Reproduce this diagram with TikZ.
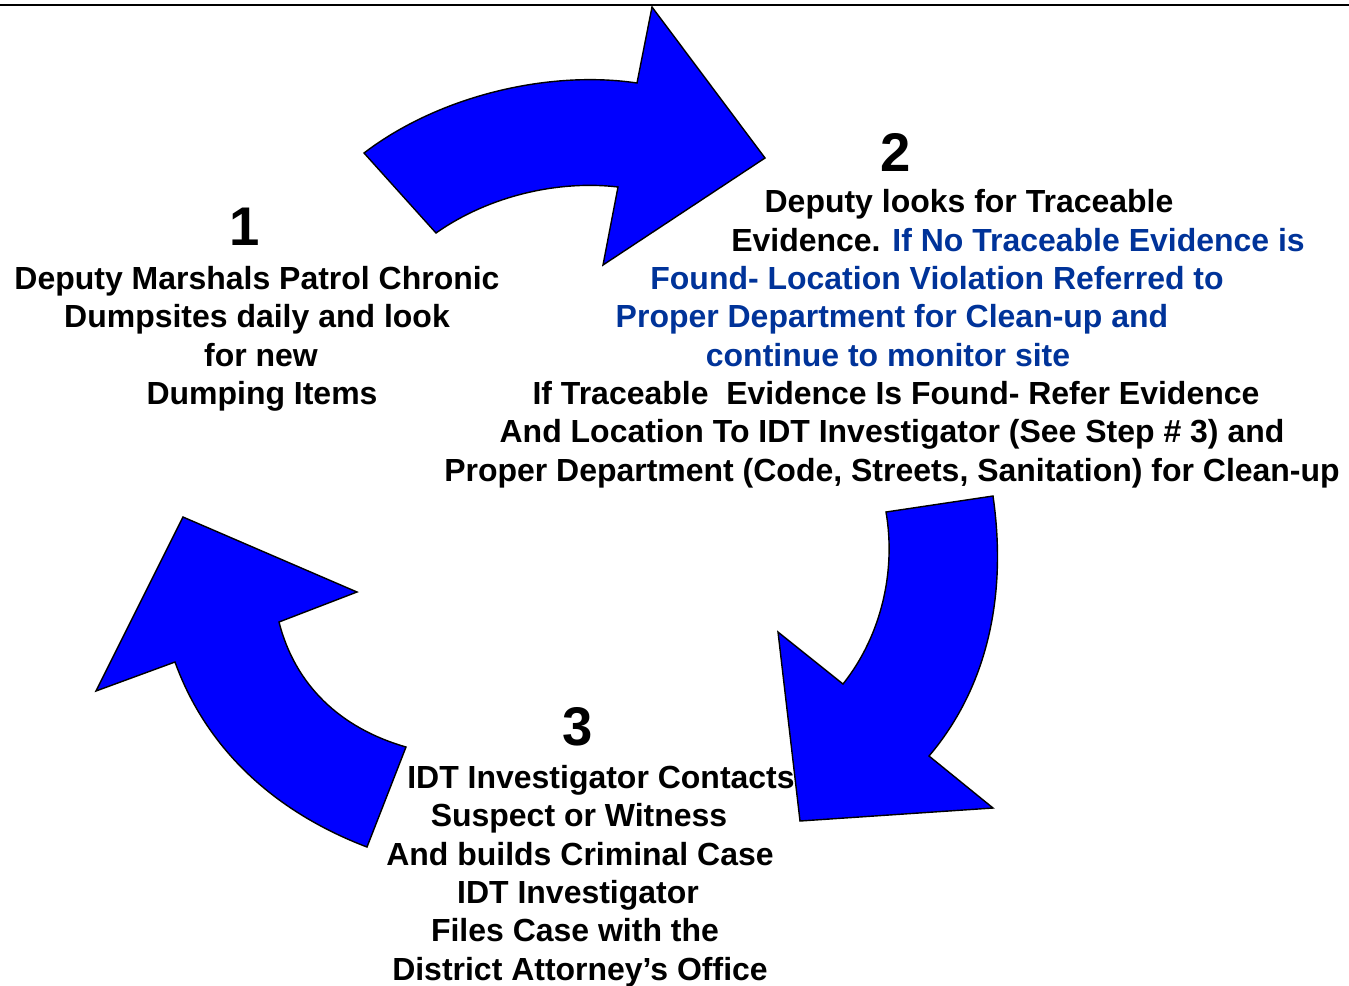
\documentclass[tikz,border=0pt]{standalone}
\usepackage{fontspec}
\setmainfont{Liberation Sans}
\definecolor{arrowblue}{RGB}{0,0,255}
\definecolor{notfoundblue}{RGB}{0,51,153}
\begin{document}
\begin{tikzpicture}[x=0.02cm, y=-0.02cm]
      \tikzset{
	  cyclearrow/.style={draw=black, fill=arrowblue, line width=0.8pt, line join=miter},
	  steptext/.style={font=\bfseries\fontsize{18.2}{21.8}\selectfont, anchor=base, inner sep=0pt},
	  stepnum/.style={font=\bfseries\fontsize{31}{36}\selectfont, anchor=base, inner sep=0pt},
	  notfound/.style={text=notfoundblue}
      }

      \useasboundingbox (0,0) rectangle (1349,985);
      \draw[line width=1.6pt] (0,5) -- (1349,5);

      \def\toparrow{(637,83) .. controls (550,70) and (440,95) .. (364,153) -- (436,233) .. controls (490,195) and (560,180) .. (618,187) -- (603,265) -- (765,158) -- (652,7) -- cycle}
      \def\rightarrow{(993,496) -- (886,512) .. controls (896,570) and (882,635) .. (843,684) -- (778,632) -- (800,821) -- (993,808) -- (929,756) .. controls (985,690) and (1008,600) .. cycle}
      \def\leftarrow{(406,747) -- (367,847) .. controls (270,810) and (205,745) .. (175,662) -- (96,691) -- (183,517) -- (357,592) -- (279,622) .. controls (295,685) and (340,728) .. cycle}

      \draw[cyclearrow] \toparrow;
      \draw[cyclearrow] \rightarrow;
      \draw[cyclearrow] \leftarrow;

      % step 1
      \node[stepnum] (num1) at (245,245) {1};
      \node[steptext] (patrol1) at (257,289) {Deputy Marshals Patrol Chronic};
      \node[steptext] (patrol2) at (257,327) {Dumpsites daily and look};
      \node[steptext] (patrol3) at (261,366) {for new};
      \node[steptext] (patrol4) at (262,404) {Dumping Items};

      % step 2
      \node[stepnum] (num2) at (896,171) {2};
      \node[steptext] (trace1) at (969,212) {Deputy looks for Traceable};
      \node[steptext] (trace2) at (1018,251) {Evidence. {\color{notfoundblue}If No Traceable Evidence is}};
      \node[steptext, notfound] (trace3) at (937,289) {Found- Location Violation Referred to};
      \node[steptext, notfound] (trace4) at (892,327) {Proper Department for Clean-up and};
      \node[steptext, notfound] (trace5) at (888,366) {continue to monitor site};
      \node[steptext] (trace6) at (896,404) {If Traceable\ \ Evidence Is Found- Refer Evidence};
      \node[steptext] (trace7) at (892,442) {And Location To IDT Investigator (See Step \# 3) and};
      \node[steptext] (trace8) at (892,481) {Proper Department (Code, Streets, Sanitation) for Clean-up};

      % step 3
      \node[stepnum] (num3) at (578,745) {3};
      \node[steptext] (case1) at (601,788) {IDT Investigator Contacts};
      \node[steptext] (case2) at (579,826) {Suspect or Witness};
      \node[steptext] (case3) at (580,865) {And builds Criminal Case};
      \node[steptext] (case4) at (578,903) {IDT Investigator};
      \node[steptext] (case5) at (575,941) {Files Case with the};
      \node[steptext] (case6) at (580,980) {District Attorney’s Office};
\end{tikzpicture}
\end{document}
